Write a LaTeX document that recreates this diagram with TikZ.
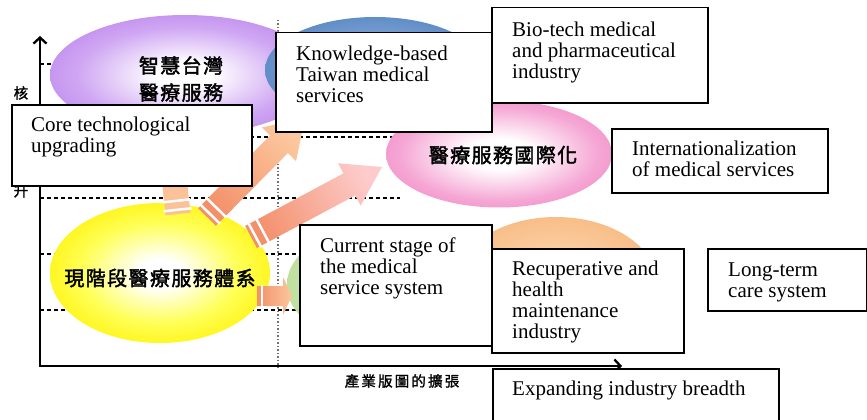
\documentclass[tikz,border=0pt]{standalone}
\usepackage{fontspec}
\setmainfont{Liberation Serif}
\newfontfamily\cjkb[FakeBold=2,LetterSpace=7]{Noto Sans CJK TC}
\newfontfamily\cjks[FakeBold=1.5,LetterSpace=15]{Noto Sans CJK TC}
\usetikzlibrary{calc,arrows.meta,shapes.geometric}

\definecolor{purpE}{HTML}{AE6EE8}
\definecolor{purpM}{HTML}{CFA6F3}
\definecolor{blueC}{HTML}{A0BCE2}
\definecolor{blueM}{HTML}{5A88C4}
\definecolor{blueE}{HTML}{3E6CAC}
\definecolor{pinkM}{HTML}{F5A6D4}
\definecolor{pinkE}{HTML}{EE70BA}
\definecolor{yellM}{HTML}{FFFF55}
\definecolor{yellE}{HTML}{FFF000}
\definecolor{greenE}{HTML}{B4D98E}
\definecolor{greenC}{HTML}{D2EBBA}
\definecolor{oranC}{HTML}{FDDDBA}
\definecolor{oranE}{HTML}{F7B57A}
\definecolor{arrDark}{HTML}{F3906A}
\definecolor{arrPeach}{HTML}{FCC89E}
\definecolor{arrPink}{HTML}{FDCBCB}

\pgfdeclareradialshading{purpsh}{\pgfpointorigin}{color(0bp)=(white); color(5bp)=(white); color(20bp)=(purpM); color(38bp)=(purpE); color(50bp)=(purpE)}
\pgfdeclareradialshading{bluesh}{\pgfpointorigin}{color(0bp)=(blueC); color(28bp)=(blueM); color(50bp)=(blueE)}
\pgfdeclareradialshading{pinksh}{\pgfpointorigin}{color(0bp)=(white); color(7bp)=(white); color(22bp)=(pinkM); color(40bp)=(pinkE); color(50bp)=(pinkE)}
\pgfdeclareradialshading{yellsh}{\pgfpointorigin}{color(0bp)=(white); color(5bp)=(white); color(18bp)=(yellM); color(30bp)=(yellE); color(50bp)=(yellE)}
\pgfdeclareradialshading{greensh}{\pgfpointorigin}{color(0bp)=(greenC); color(40bp)=(greenE); color(50bp)=(greenE)}
\pgfdeclareradialshading{oransh}{\pgfpointorigin}{color(0bp)=(oranC); color(32bp)=(oranE); color(50bp)=(oranE)}

\newcommand\blockarrow[6]{%
  \coordinate (#1n) at ($(#2)!#4!(#1)$);
  \path[#6] ($(#1)!#3!90:(#2)$) -- ($(#1n)!#3!90:(#2)$) -- ($(#1n)!#5!90:(#2)$) -- (#2)
    -- ($(#1n)!#5!-90:(#2)$) -- ($(#1n)!#3!-90:(#2)$) -- ($(#1)!#3!-90:(#2)$) -- cycle;}
\newcommand\stripe[4]{%
  \coordinate (#1s) at ($(#1)!#3!(#2)$);
  \draw[white, line width=2.5pt] ($(#1s)!#4!90:(#2)$) -- ($(#1s)!#4!-90:(#2)$);}

\begin{document}
\begin{tikzpicture}[x=1pt,y=-1pt,
  box/.style={draw, line width=1.5pt, fill=white, inner sep=0pt, anchor=north west, rectangle},
  etxt/.style={inner sep=0pt, anchor=north west, align=left, font=\fontsize{21}{21}\selectfont},
  ell/.style={ellipse, inner sep=0pt, draw=none, shade},
  cjkbig/.style={font=\cjkb\fontsize{20}{27}\selectfont, align=center, inner sep=0pt},
  cjksmall/.style={font=\cjks\fontsize{14.5}{16}\selectfont, inner sep=0pt},
  gridline/.style={dash pattern=on 4pt off 3pt, line width=1.1pt},
  vgridline/.style={black!55, dash pattern=on 1.5pt off 2pt, line width=1.2pt},
  axisline/.style={line width=2.3pt, arrows={Straight Barb[length=6pt,width=13pt]-Straight Barb[length=6pt,width=13pt]}}
]
\useasboundingbox (0,0) rectangle (867,420);
\clip (0,0) rectangle (867,420);

% grid
\draw[vgridline] (278,20) -- (278,369);
\draw[gridline] (40,64) -- (278,64);
\draw[gridline] (40,137) -- (400,137);
\draw[gridline] (40,198) -- (400,198);
\draw[gridline] (40,254) -- (300,254);
\draw[gridline] (40,310) -- (300,310);

% ellipses
\node[ell, shading=purpsh, minimum width=270pt, minimum height=120pt] (purple) at (185,75) {};
\node[ell, shading=bluesh, minimum width=220pt, minimum height=106pt] (blue) at (375,70) {};
\node[ell, shading=pinksh, minimum width=226pt, minimum height=107pt] (pink) at (499,154) {};
\node[ell, shading=yellsh, minimum width=220pt, minimum height=140pt] (yellow) at (160,273) {};
\node[ell, shading=greensh, minimum width=126pt, minimum height=100pt] (green) at (350,285) {};
\node[ell, shading=oransh, minimum width=200pt, minimum height=130pt] (orange) at (556,282) {};

% axes
\coordinate (ytop) at (40,36);
\coordinate (orig) at (40,366);
\coordinate (xend) at (622,366);
\draw[axisline] (ytop) -- (orig) -- (xend);

% arrows
\coordinate (tA) at (178,214); \coordinate (hA) at (170,140);
\coordinate (tB) at (207,217); \coordinate (hB) at (305,118);
\coordinate (tC) at (251,237); \coordinate (hC) at (382,167);
\coordinate (tD) at (257,296); \coordinate (hD) at (292,296);

\blockarrow{tA}{hA}{12.5pt}{30pt}{24pt}{top color=arrPeach, bottom color=arrPeach!85!arrDark, shading angle=6}
\stripe{tA}{hA}{4.25pt}{14pt}
\stripe{tA}{hA}{13.25pt}{14pt}
\blockarrow{tB}{hB}{12.5pt}{37pt}{24pt}{top color=arrPeach, bottom color=arrDark, shading angle=-45}
\stripe{tB}{hB}{4.25pt}{14pt}
\stripe{tB}{hB}{13.25pt}{14pt}
\blockarrow{tC}{hC}{12.5pt}{37pt}{24pt}{top color=arrPink, bottom color=arrDark, shading angle=-62}
\stripe{tC}{hC}{4.25pt}{14pt}
\stripe{tC}{hC}{13.25pt}{14pt}
\blockarrow{tD}{hD}{10pt}{9pt}{19pt}{top color=arrPeach, bottom color=arrDark, shading angle=-90}
\stripe{tD}{hD}{5pt}{11pt}

% CJK labels
\node[cjkbig] (purpletxt) at (181,79) {智慧台灣\\醫療服務};
\node[cjkbig] (pinktxt) at (503,155) {醫療服務國際化};
\node[cjkbig] (yellowtxt) at (160,278) {現階段醫療服務體系};
\node[cjksmall] (ylab1) at (21,93) {核};
\node[cjksmall] (ylab2) at (21,191) {升};
\node[cjksmall] (xlab) at (402,381) {產業版圖的擴張};

% boxes
\node[box, minimum width=240pt, minimum height=81pt] (core) at (11,104) {};
\node[etxt] (coretxt) at (31,116) {\rule{0pt}{15pt}Core technological\\upgrading};
\node[box, minimum width=216pt, minimum height=99pt] (know) at (275,32) {};
\node[etxt] (knowtxt) at (296,45) {\rule{0pt}{15pt}Knowledge-based\\Taiwan medical\\services};
\node[box, minimum width=216pt, minimum height=95pt] (bio) at (491,7) {};
\node[etxt] (biotxt) at (512,21) {\rule{0pt}{15pt}Bio-tech medical\\and pharmaceutical\\industry};
\node[box, minimum width=216pt, minimum height=64pt] (intl) at (611,128) {};
\node[etxt] (intltxt) at (632,140) {\rule{0pt}{15pt}Internationalization\\of medical services};
\node[box, minimum width=192pt, minimum height=121pt] (curr) at (299,224) {};
\node[etxt] (currtxt) at (320,237) {\rule{0pt}{15pt}Current stage of\\the medical\\service system};
\node[box, minimum width=192pt, minimum height=104pt] (recup) at (491,248) {};
\node[etxt] (recuptxt) at (512,260) {\rule{0pt}{15pt}Recuperative and\\health\\maintenance\\industry};
\node[box, minimum width=159pt, minimum height=62pt] (long) at (707,248) {};
\node[etxt] (longtxt) at (728,261) {\rule{0pt}{15pt}Long-term\\care system};
\node[box, minimum width=286pt, minimum height=70pt] (expand) at (492,368) {};
\node[etxt] (expandtxt) at (512,380) {\rule{0pt}{15pt}Expanding industry breadth};
\end{tikzpicture}
\end{document}
